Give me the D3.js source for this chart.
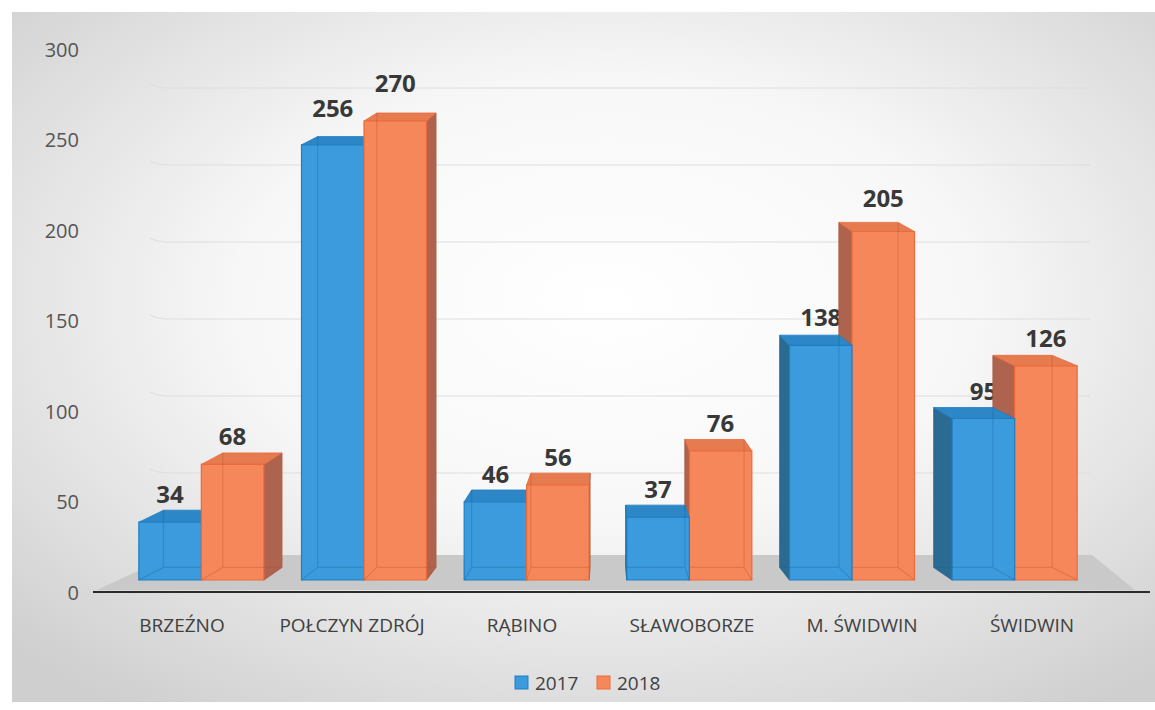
<!DOCTYPE html>
<html>
<head>
<meta charset="utf-8">
<script src="https://cdn.jsdelivr.net/npm/d3@7"></script>
<style>
  body { margin: 0; background: #fff; }
  svg text { font-family: "Open Sans", sans-serif; }
</style>
</head>
<body>
<div id="vis"></div>
<script>
var categories = ["BRZEŹNO", "POŁCZYN ZDRÓJ", "RĄBINO", "SŁAWOBORZE", "M. ŚWIDWIN", "ŚWIDWIN"],
    series = ["2017", "2018"],
    v2017 = [34, 256, 46, 37, 138, 95],
    v2018 = [68, 270, 56, 76, 205, 126],
    yTicks = [0, 50, 100, 150, 200, 250, 300];

var w = 1155, h = 710,
    vx = 605,           // horizontal vanishing point of the depth
    sx = 0.947,         // back face horizontal scale
    base = 580;

var colors = {
  "2017": {front: "#3b9bdc", top: "#2d86c6", side: "#2b6b92", edge: "#1f7fc4", hidden: "#1a5f93"},
  "2018": {front: "#f5875a", top: "#e57b4f", side: "#ad634d", edge: "#ec6a3b", hidden: "#b5502c"}
};

var svg = d3.select("#vis").append("svg")
    .attr("width", w)
    .attr("height", h);

var defs = svg.append("defs");
var bg = defs.append("radialGradient")
    .attr("id", "bg")
    .attr("cx", 0.52).attr("cy", 0.42).attr("r", 0.72);
bg.append("stop").attr("offset", 0).attr("stop-color", "#ffffff");
bg.append("stop").attr("offset", 0.45).attr("stop-color", "#f7f7f7");
bg.append("stop").attr("offset", 1).attr("stop-color", "#cfcfcf");

svg.append("rect")
    .attr("x", 12).attr("y", 12)
    .attr("width", w - 12).attr("height", 690)
    .attr("fill", "url(#bg)");

// scales
var xBand = d3.scaleBand().domain(categories).range([120, 1096]);
var xSeries = d3.scaleBand().domain(series).range([-62.5, 62.5]);
var xLabel = d3.scaleBand().domain(categories).range([97, 1117]);
var yBar = d3.scaleLinear().domain([0, 300]).range([base, base - 300 * 1.70]);
var yAxisScale = d3.scaleLinear().domain([0, 300]).range([593, 50]);
var yWall = d3.scaleLinear().domain([0, 300]).range([550, 88]);

// back wall grid lines
svg.append("g")
  .selectAll("path")
  .data(yTicks.slice(1))
  .enter().append("path")
    .attr("d", function(d) {
      return "M150," + (yWall(d) - 4) + "Q158," + yWall(d) + " 168," + yWall(d) + "L1090," + yWall(d);
    })
    .attr("fill", "none")
    .attr("stroke", "#dedede")
    .attr("stroke-width", 1.2);

// floor
svg.append("path")
    .attr("d", "M97,590L172,555L1092,555L1135,590Z")
    .attr("fill", "#c9c9c9");

svg.append("line")
    .attr("x1", 93).attr("x2", 1150)
    .attr("y1", 592).attr("y2", 592)
    .attr("stroke", "#2b2b2b")
    .attr("stroke-width", 2.2);

// y axis labels
var yAxis = d3.axisLeft(yAxisScale).tickValues(yTicks).tickSize(0).tickPadding(0);
var ga = svg.append("g").attr("transform", "translate(79,0)").call(yAxis);
ga.select(".domain").remove();
ga.selectAll("text")
    .attr("font-size", 20)
    .attr("font-family", "Open Sans")
    .attr("fill", "#555");

// bars
function back(p) {
  var y = p[1];
  return [vx + sx * (p[0] - vx), y - (8 + 0.01 * (y - 120))];
}

var bars = [];
categories.forEach(function(c, i) {
  [v2017[i], v2018[i]].forEach(function(v, j) {
    var s = series[j],
        cx = xBand(c) + xBand.bandwidth() / 2,
        x0 = cx + xSeries(s),
        x1 = x0 + xSeries.bandwidth();
    bars.push({cat: c, s: s, v: v, x0: x0, x1: x1, mid: (x0 + x1) / 2});
  });
});

// value labels sit in the scene, so the taller bar's side can cover them
svg.append("g")
  .selectAll("text")
  .data(bars)
  .enter().append("text")
    .attr("x", function(d) { return d.mid; })
    .attr("y", function(d) { return yBar(d.v) - 19 - Math.max(0, d.v - 130) * 0.07; })
    .attr("text-anchor", "middle")
    .attr("font-size", 24)
    .attr("font-weight", "bold")
    .attr("fill", "#383838")
    .text(function(d) { return d.v; });

bars.sort(function(a, b) { return Math.abs(b.mid - vx) - Math.abs(a.mid - vx); });

function poly(pts) { return "M" + pts.map(function(p) { return p.join(","); }).join("L") + "Z"; }

var gb = svg.append("g");
bars.forEach(function(d) {
  var c = colors[d.s],
      yt = yBar(d.v),
      fl = [d.x0, yt], fr = [d.x1, yt], bl = [d.x0, base], br = [d.x1, base],
      g = gb.append("g");

  var side = d.mid < vx
    ? [fr, br, back(br), back(fr)]
    : [fl, bl, back(bl), back(fl)];
  g.append("path").attr("d", poly(side)).attr("fill", c.side).attr("stroke", c.side).attr("stroke-width", 0.8);
  g.append("path").attr("d", poly([fl, fr, back(fr), back(fl)]))
      .attr("fill", c.top).attr("stroke", c.edge).attr("stroke-width", 0.8);
  g.append("path").attr("d", poly([fl, fr, br, bl]))
      .attr("fill", c.front).attr("stroke", c.edge).attr("stroke-width", 1.2);
  // hidden back edges seen through the glassy bar
  var b1 = back(fl), b2 = back(fr), b3 = back(br), b4 = back(bl);
  g.append("path")
      .attr("d", "M" + b1 + "L" + b4 + "L" + b3 + "L" + b2 + "M" + bl + "L" + b4 + "M" + br + "L" + b3)
      .attr("fill", "none")
      .attr("stroke", c.hidden)
      .attr("stroke-opacity", 0.3)
      .attr("stroke-width", 1.2);
});

// category labels
svg.append("g")
  .selectAll("text")
  .data(categories)
  .enter().append("text")
    .attr("x", function(d) { return xLabel(d) + xLabel.bandwidth() / 2; })
    .attr("y", 632)
    .attr("text-anchor", "middle")
    .attr("font-size", 19)
    .attr("fill", "#404040")
    .text(function(d) { return d; });

// legend
var lg = svg.append("g").attr("transform", "translate(515,676)");
series.forEach(function(s, i) {
  var gx = i * 82;
  lg.append("rect")
      .attr("x", gx).attr("y", 0)
      .attr("width", 13).attr("height", 13)
      .attr("fill", colors[s].front)
      .attr("stroke", colors[s].edge);
  lg.append("text")
      .attr("x", gx + 20).attr("y", 14)
      .attr("font-size", 19)
      .attr("fill", "#404040")
      .text(s);
});
</script>
</body>
</html>
